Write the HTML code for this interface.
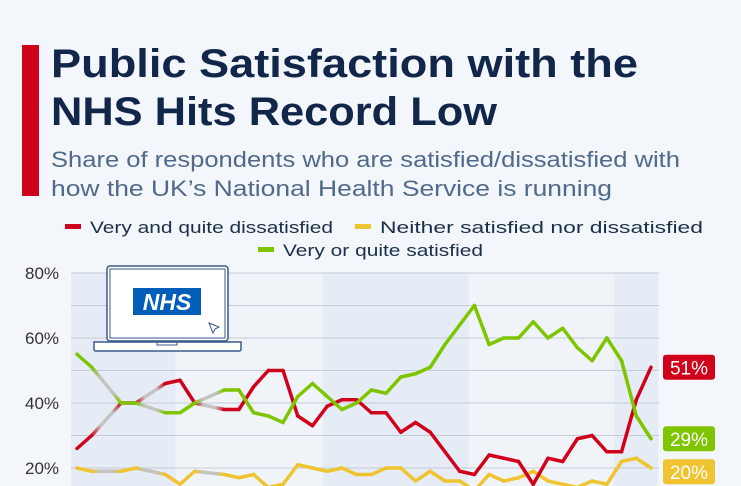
<!DOCTYPE html>
<html><head><meta charset="utf-8"><style>
html,body{margin:0;padding:0;background:#f3f6fa;}
svg{display:block;font-family:"Liberation Sans",sans-serif;}
</style></head><body>
<svg id="chart" width="741" height="486" viewBox="0 0 741 486">
<defs id="defs"></defs>
<rect width="741" height="486" fill="#f3f6fa"/>
<rect x="22" y="45" width="17" height="151" fill="#d0021b"/>
<text x="51" y="77" font-size="40" font-weight="bold" fill="#12264a" textLength="587" lengthAdjust="spacingAndGlyphs">Public Satisfaction with the</text>
<text x="51" y="125" font-size="40" font-weight="bold" fill="#12264a" textLength="446" lengthAdjust="spacingAndGlyphs">NHS Hits Record Low</text>
<text x="51" y="167" font-size="22" fill="#51698a" textLength="629" lengthAdjust="spacingAndGlyphs">Share of respondents who are satisfied/dissatisfied with</text>
<text x="51" y="196" font-size="22" fill="#51698a" textLength="561" lengthAdjust="spacingAndGlyphs">how the UK’s National Health Service is running</text>
<g>
<rect x="65" y="224" width="16" height="5" fill="#d0021b"/>
<text x="90" y="233" font-size="17" fill="#1c2f4a" textLength="243" lengthAdjust="spacingAndGlyphs">Very and quite dissatisfied</text>
<rect x="355" y="224" width="16" height="5" fill="#f0c330"/>
<text x="380" y="233" font-size="17" fill="#1c2f4a" textLength="323" lengthAdjust="spacingAndGlyphs">Neither satisfied nor dissatisfied</text>
<rect x="258" y="247" width="16" height="5" fill="#7ec500"/>
<text x="283" y="256" font-size="17" fill="#1c2f4a" textLength="200" lengthAdjust="spacingAndGlyphs">Very or quite satisfied</text>
</g>
<g id="bands"></g>
<g id="grid"></g>
<g id="series"></g>
<g>
<rect x="107" y="266" width="121" height="75" rx="3" fill="#fff" stroke="#3a5a8c" stroke-width="1.5"/>
<rect x="110" y="269" width="115" height="69" fill="none" stroke="#3a5a8c" stroke-width="1"/>
<path d="M94 342 H241 V349 Q241 351 239 351 H96 Q94 351 94 349 Z" fill="#fff" stroke="#3a5a8c" stroke-width="1.5"/>
<rect x="157" y="342" width="20" height="3" fill="none" stroke="#3a5a8c" stroke-width="1"/>
<rect x="133" y="288" width="68" height="27" fill="#005eb8"/>
<text x="167" y="310" font-size="23" font-weight="bold" font-style="italic" fill="#fff" text-anchor="middle">NHS</text>
<path d="M209 323 L219 327 L215 329 L213 333 Z" fill="none" stroke="#3a5a8c" stroke-width="1"/>
</g>
<g id="labels"></g>
</svg>
<script>
const years = [1983,1984,1986,1987,1989,1990,1991,1993,1994,1995,1996,1997,1998,1999,2000,2001,2002,2003,2004,2005,2006,2007,2008,2009,2010,2011,2012,2013,2014,2015,2016,2017,2018,2019,2020,2021,2022];
const dissatisfied = [26,30,40,40,46,47,40,38,38,45,50,50,36,33,39,41,41,37,37,31,34,31,25,19,18,24,23,22,15,23,22,29,30,25,25,41,51];
const neither = [20,19,19,20,18,15,19,18,17,18,14,15,21,20,19,20,18,18,20,20,16,19,16,16,13,18,16,17,19,16,15,14,16,15,22,23,20];
const satisfied = [55,51,40,40,37,37,40,44,44,37,36,34,42,46,42,38,40,44,43,48,49,51,58,64,70,58,60,60,65,60,63,57,53,60,53,36,29];
const yTicks = [20,30,40,50,60,70,80];
const yTickLabels = ["20%","","40%","","60%","","80%"];
const bandBreaks = [1982.6,1989.7,1999.7,2009.6,2019.5,2022.5];

const NS="http://www.w3.org/2000/svg";
const x0=77, x1=651, plotL=71, plotR=659;
function xs(yr){return x0+(yr-1983)*(x1-x0)/(2022-1983);}
function ys(v){return 468-(v-20)*3.25;}
function mk(tag,attrs,parent){const e=document.createElementNS(NS,tag);for(const k in attrs)e.setAttribute(k,attrs[k]);parent.appendChild(e);return e;}

const bands=document.getElementById('bands');
for(let i=0;i<bandBreaks.length-1;i++){
  const a=Math.max(plotL,xs(bandBreaks[i])), b=Math.min(plotR,xs(bandBreaks[i+1]));
  const r=mk('rect',{x:a,y:273,width:b-a,height:215,fill:i%2===0?'#e6ecf5':'#f0f4f9'},bands);
  
  
}
const grid=document.getElementById('grid');
yTicks.forEach((t,i)=>{
  const l=mk('line',{x1:plotL,x2:plotR,y1:ys(t),y2:ys(t),stroke:'#c5ccd6','stroke-width':1},grid);
  
  
  if(yTickLabels[i]){
    const tx=mk('text',{x:25,y:ys(t)+6,'font-size':17,fill:'#333'},grid);
    tx.textContent=yTickLabels[i];
    
    
  }
});
const defs=document.getElementById('defs');
let gid=0;
const series=document.getElementById('series');
function drawSeries(vals,color,name){
  const g=mk('g',{},series);
  
  
  for(let i=0;i<years.length-1;i++){
    const gap=years[i+1]-years[i]>1;
    const ax=xs(years[i]),ay=ys(vals[i]),bx=xs(years[i+1]),by=ys(vals[i+1]);
    let stroke=color;
    if(gap){
      const id='gr'+(gid++);
      const lg=mk('linearGradient',{id:id,gradientUnits:'userSpaceOnUse',x1:ax,y1:ay,x2:bx,y2:by},defs);
      mk('stop',{offset:'0','stop-color':color},lg);
      mk('stop',{offset:'0.3','stop-color':'#c4c4c0'},lg);
      mk('stop',{offset:'0.7','stop-color':'#c4c4c0'},lg);
      mk('stop',{offset:'1','stop-color':color},lg);
      stroke='url(#'+id+')';
    }
    const s=mk('line',{x1:ax,y1:ay,x2:bx,y2:by,stroke:stroke,'stroke-width':3.5,'stroke-linecap':'round'},g);
    
    
  }
}
drawSeries(neither,'#f0c330','line-neither');
drawSeries(dissatisfied,'#d0021b','line-dissatisfied');
drawSeries(satisfied,'#7ec500','line-satisfied');

const labels=document.getElementById('labels');
const last=years.length-1;
[[dissatisfied,'#d0021b','label-dissatisfied'],[satisfied,'#7ec500','label-satisfied'],[neither,'#f0c330','label-neither']].forEach(([v,c,n])=>{
  let cy=ys(v[last]);
  if(n==='label-neither') cy=Math.max(cy,ys(satisfied[last])+33);
  const g=mk('g',{},labels);
  
  
  mk('rect',{x:663,y:cy-12.5,width:52,height:25,rx:3,fill:c},g);
  const t=mk('text',{x:689,y:cy+7,'font-size':19,fill:'#fff','text-anchor':'middle'},g);
  t.textContent=v[last]+'%';
});
</script>
</body></html>
